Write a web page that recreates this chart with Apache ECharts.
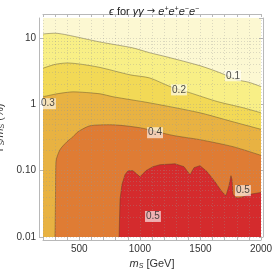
<!DOCTYPE html>
<html><head><meta charset="utf-8">
<script src="https://cdn.jsdelivr.net/npm/echarts@6/dist/echarts.min.js"></script>
<style>html,body{margin:0;padding:0;background:#fff}#c{width:274px;height:271px}</style>
</head><body><div id="c"></div>
<script>
// grid / tick values
const xGridValues = [200,300,400,500,600,700,800,900,1000,1100,1200,1300,1400,1500,1600,1700,1800,1900,2000];
const xTickLabels = [500, 1000, 1500, 2000];
const yMajorValues = [0.01, 0.1, 1, 10];
const yTickLabels = ['0.01', '0.10', '1', '10'];
const yMinorValues = [0.02,0.03,0.04,0.05,0.06,0.07,0.08,0.09,0.2,0.3,0.4,0.5,0.6,0.7,0.8,0.9,2,3,4,5,6,7,8,9];

// contour boundaries (m_S [GeV], Γ_S/m_S [%]); region below each curve has eps above the level
const contour01 = [[200,11.5],[300,11.8],[400,11.1],[670,8.7],[940,7.1],[1080,6.0],[1220,5.2],[1500,3.8],[1660,3.0],[1800,2.35],[1900,2.15],[2000,1.85]];
const contour02 = [[200,3.5],[300,4.0],[400,4.2],[650,3.66],[920,2.78],[1080,2.5],[1250,1.85],[1410,1.5],[1640,1.1],[1850,0.89],[2000,0.745]];
const contour03 = [[200,1.30],[316,1.44],[448,1.54],[671,1.44],[778,1.30],[1083,1.05],[1496,0.745],[1769,0.545],[2000,0.42]];
const contour04 = [[299,0.01],[303,0.037],[307,0.137],[340,0.207],[398,0.273],[448,0.325],[489,0.386],[588,0.475],[753,0.492],[1001,0.443],[1273,0.34],[1496,0.293],[1769,0.23],[2000,0.17]];
const contour05 = [[828,0.01],[836,0.037],[852,0.062],[877,0.087],[902,0.1],[943,0.1],[1001,0.081],[1050,0.1],[1108,0.115],[1166,0.123],[1290,0.127],[1364,0.115],[1414,0.087],[1447,0.111],[1496,0.119],[1554,0.097],[1620,0.068],[1678,0.048],[1711,0.042],[1736,0.06],[1752,0.084],[1761,0.073],[1769,0.044],[1794,0.039],[1827,0.039],[1909,0.044],[2000,0.047]];

const contourLevels = ['0.1', '0.2', '0.3', '0.4', '0.5'];
const contourLabels = [[1769,2.69,'0.1'],[1323,1.65,'0.2'],[241,1.02,'0.3'],[1125,0.373,'0.4'],[1851,0.050,'0.5'],[1108,0.0204,'0.5']];

const fillColors = ['#F8EF86', '#F2D956', '#E8B242', '#DF7C34', '#D42B2D'];
const baseColor = '#FCF8D2';
const FONT = '"Liberation Sans", "DejaVu Sans", sans-serif';

const chart = echarts.init(document.getElementById('c'), null, {renderer: 'canvas'});
const contours = [contour01, contour02, contour03, contour04, contour05];

const lineStyle = {color: 'rgba(70,60,40,0.5)', width: 0.8};
const series = contours.map((d, i) => ({
  type: 'line',
  name: contourLevels[i],
  data: d,
  symbol: 'none',
  smooth: i < 4 ? 0.25 : false,
  lineStyle: lineStyle,
  areaStyle: {color: fillColors[i], opacity: 1, origin: 'start'},
  silent: true,
  animation: false
}));

series.push({
  type: 'scatter',
  data: contourLabels.map(l => ({value: [l[0], l[1]], name: l[2]})),
  symbolSize: 0,
  z: 5,
  silent: true,
  animation: false,
  label: {
    show: true, position: 'inside', formatter: '{b}',
    fontFamily: FONT, fontSize: 10, color: '#222',
    backgroundColor: 'rgba(255,255,255,0.78)', padding: [1, 1, 0, 1]
  },
  markLine: {
    silent: true, symbol: 'none', animation: false,
    label: {show: false},
    lineStyle: {color: 'rgba(150,150,150,0.55)', type: [1, 2], width: 0.6},
    data: xGridValues.map(v => ({xAxis: v}))
      .concat(yMinorValues.concat(yMajorValues).map(v => ({yAxis: v})))
  }
});

const axisColor = '#b8b8b8';
const yFmt = v => {
  for (let i = 0; i < yMajorValues.length; i++) {
    if (Math.abs(Math.log10(v) - Math.log10(yMajorValues[i])) < 1e-6) return yTickLabels[i];
  }
  return '';
};
const xFmt = v => xTickLabels.indexOf(Math.round(v)) >= 0 ? String(Math.round(v)) : '';

chart.setOption({
  animation: false,
  title: {
    text: '{i|ϵ} for {i|γγ} {a|→} {i|e}{sup|+}{i|e}{sup|+}{i|e}{sup|−}{i|e}{sup|−}',
    left: 104, top: 1,
    textStyle: {
      fontFamily: FONT, fontSize: 11, color: '#222', fontWeight: 'normal',
      rich: {
        i: {fontFamily: FONT, fontSize: 11, fontStyle: 'italic', color: '#222'},
        a: {fontFamily: '"DejaVu Sans", sans-serif', fontSize: 10, color: '#222'},
        sup: {fontFamily: FONT, fontSize: 7, fontStyle: 'italic', color: '#222', verticalAlign: 'top'}
      }
    }
  },
  grid: {left: 43, right: 13, top: 18, bottom: 34, show: true, backgroundColor: baseColor, borderWidth: 0,
         containLabel: false, outerBoundsMode: 'none'},
  xAxis: [{
    type: 'value', min: 200, max: 2000, interval: 100, position: 'bottom', offset: 3,
    axisLine: {show: true, lineStyle: {color: axisColor}},
    axisTick: {show: true, inside: true, length: 3, lineStyle: {color: axisColor}},
    splitLine: {show: false},
    axisLabel: {formatter: xFmt, fontFamily: FONT, fontSize: 10, color: '#333', margin: 4, showMinLabel: true, showMaxLabel: true, hideOverlap: false},
    name: '{i|m}{sub|S} [GeV]', nameLocation: 'middle', nameGap: 17,
    nameTextStyle: {fontFamily: FONT, fontSize: 11, color: '#333',
      rich: {i: {fontFamily: FONT, fontSize: 11, fontStyle: 'italic', color: '#333'},
             sub: {fontFamily: FONT, fontSize: 7, fontStyle: 'italic', color: '#333', verticalAlign: 'bottom'}}}
  }, {
    type: 'value', min: 200, max: 2000, interval: 100, position: 'top', offset: 4,
    axisLine: {show: true, lineStyle: {color: axisColor}},
    axisTick: {show: true, inside: true, length: 3, lineStyle: {color: axisColor}},
    splitLine: {show: false}, axisLabel: {show: false}
  }],
  yAxis: [{
    type: 'log', logBase: 10, min: 0.01, max: 20, position: 'left', offset: 4,
    axisLine: {show: true, lineStyle: {color: axisColor}},
    axisTick: {show: true, inside: true, length: 4, lineStyle: {color: axisColor}},
    splitLine: {show: false},
    axisLabel: {formatter: yFmt, fontFamily: FONT, fontSize: 10, color: '#333', margin: 3, showMinLabel: true, showMaxLabel: false},
    name: '{g|Γ}{sub|S}/{i|m}{sub|S} (%)', nameLocation: 'middle', nameGap: 22, nameRotate: 90,
    nameTextStyle: {fontFamily: FONT, fontSize: 11, color: '#333',
      rich: {g: {fontFamily: FONT, fontSize: 11, color: '#333'},
             i: {fontFamily: FONT, fontSize: 11, fontStyle: 'italic', color: '#333'},
             sub: {fontFamily: FONT, fontSize: 7, fontStyle: 'italic', color: '#333', verticalAlign: 'bottom'}}}
  }, {
    type: 'log', logBase: 10, min: 0.01, max: 20, position: 'right', offset: 2,
    axisLine: {show: true, lineStyle: {color: axisColor}},
    axisTick: {show: true, inside: true, length: 4, lineStyle: {color: axisColor}},
    splitLine: {show: false}, axisLabel: {show: false}
  }],
  series: series
});
</script></body></html>
